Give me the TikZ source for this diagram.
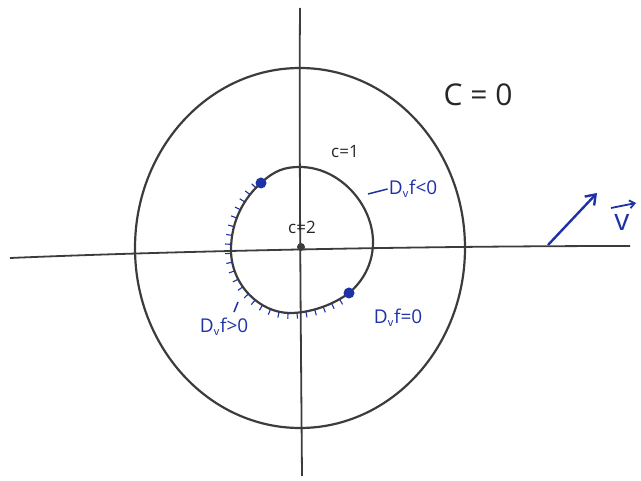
\documentclass[tikz,border=0pt]{standalone}
\usepackage{fontspec}
\setmainfont{Open Sans}
\usetikzlibrary{decorations.markings,arrows.meta}
\definecolor{ink}{RGB}{60,60,60}
\definecolor{pen}{RGB}{30,50,165}
\tikzset{
  curve/.style={draw=ink, line width=2.2pt},
  axis/.style={draw=ink, line width=1.8pt},
  bluelbl/.style={text=pen, font=\fontsize{19}{22}\selectfont, inner sep=1pt},
  graylbl/.style={text=black!85, inner sep=1pt},
  bdot/.style={circle, fill=pen, inner sep=0pt, minimum size=11pt},
  odot/.style={circle, fill=ink, inner sep=0pt, minimum size=8pt},
  hatch/.style={postaction={decorate, decoration={markings,
      mark=between positions 0.03 and 0.97 step 9pt with {\draw[pen, line width=1.1pt] (0,0) -- (0,-6pt);}}}}
}
\begin{document}
\begin{tikzpicture}[x=1pt,y=-1pt]
\useasboundingbox (0,0) rectangle (641,481);
% axes
\coordinate (xl) at (10,258);
\coordinate (xr) at (630,246);
\coordinate (yt) at (300,8);
\coordinate (yb) at (302,476);
\draw[axis] (xl) .. controls (150,252) and (400,246) .. (xr);
\draw[axis] (yt) .. controls (299,150) and (301,350) .. (yb);
% outer level curve c=0
\draw[curve] (300,248) ellipse [x radius=165, y radius=180];
% inner level curve c=1
\coordinate (T) at (300,167);
\coordinate (R) at (373,242);
\coordinate (B) at (290,313);
\coordinate (L) at (231,250);
\coordinate (P1) at (261,183);
\coordinate (P2) at (349,293);
\draw[curve] (T) .. controls (340,167) and (373,205) .. (R)
  .. controls (373,265) and (362,282) .. (P2)
  .. controls (333,305) and (310,313) .. (B)
  .. controls (260,313) and (231,285) .. (L)
  .. controls (231,220) and (245,197) .. (P1)
  .. controls (275,170) and (285,167) .. (T) -- cycle;
% hatched part
\path[hatch] (P1) .. controls (245,197) and (231,220) .. (L)
  .. controls (231,285) and (260,313) .. (B)
  .. controls (310,313) and (333,305) .. (P2);
% points
\node[odot] (o) at (301,247) {};
\node[bdot] (p1) at (P1) {};
\node[bdot] (p2) at (P2) {};
% labels
\node[graylbl, font=\fontsize{30}{34}\selectfont] (c0) at (478,95) {C = 0};
\node[graylbl, font=\fontsize{17}{20}\selectfont] (c1) at (345,152) {c=1};
\node[graylbl, font=\fontsize{17}{20}\selectfont] (c2) at (302,227) {c=2};
\node[bluelbl] (neg) at (413,189) {D$_{\scriptstyle\mathsf{v}}$f<0};
\node[bluelbl] (pos) at (224,327) {D$_{\scriptstyle\mathsf{v}}$f>0};
\node[bluelbl] (zer) at (398,318) {D$_{\scriptstyle\mathsf{v}}$f=0};
\coordinate (negend) at (368,194);
\draw[pen, line width=1.5pt] (neg.west) -- (negend);
\coordinate (posa) at (234,312);
\coordinate (posb) at (238,302);
\draw[pen, line width=1.5pt] (posa) -- (posb);
% vector v
\coordinate (va) at (548,245);
\coordinate (vb) at (597,193);
\draw[pen, line width=2.4pt, -{Straight Barb[length=9pt,width=13pt]}] (va) -- (vb);
\node[text=pen, font=\fontsize{30}{34}\selectfont, inner sep=1pt] (v) at (622,222) {v};
\coordinate (vaa) at (611,208);
\coordinate (vab) at (636,203);
\draw[pen, line width=1.8pt, -{Straight Barb[length=5pt,width=8pt]}] (vaa) -- (vab);
\end{tikzpicture}
\end{document}
